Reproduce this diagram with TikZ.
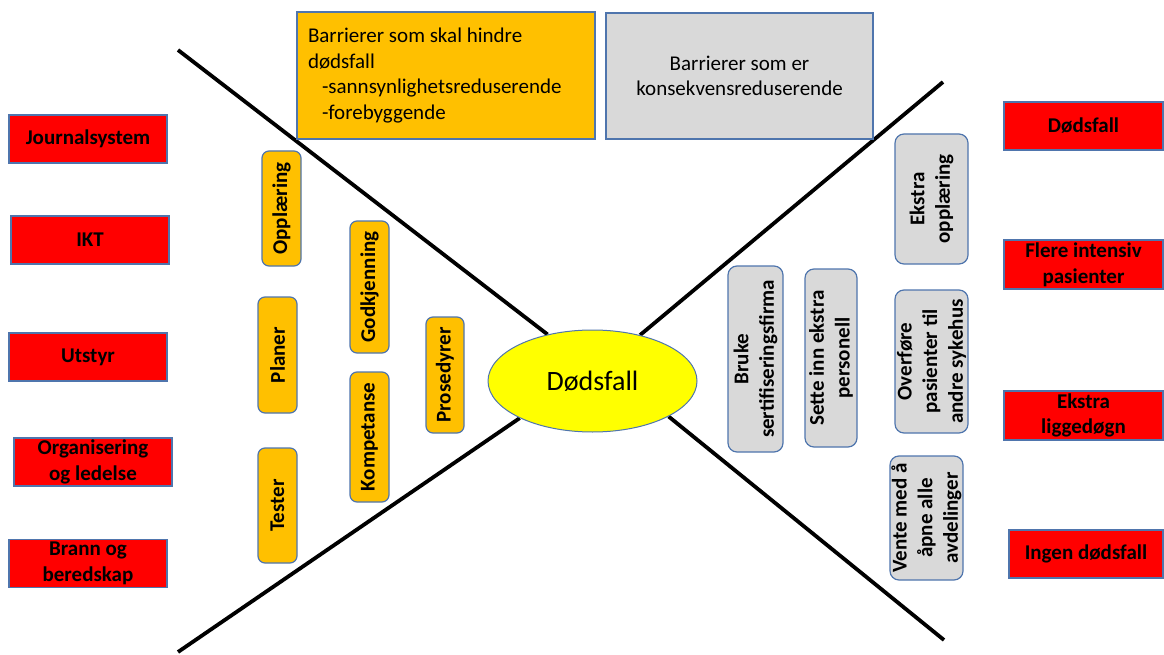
\documentclass[tikz,border=0pt]{standalone}
\usepackage{fontspec}
\setmainfont{Carlito}
\usetikzlibrary{shapes.geometric,backgrounds}

\definecolor{boxred}{HTML}{FF0000}
\definecolor{boxorange}{HTML}{FFC000}
\definecolor{boxgray}{HTML}{D9D9D9}
\definecolor{boxedge}{HTML}{4F75AD}
\definecolor{topyellow}{HTML}{FFFF00}

\tikzset{
  redbox/.style={draw=boxedge, line width=1.2pt, fill=boxred, minimum width=158pt,
    minimum height=48pt, inner sep=1pt, align=center,
    font=\fontsize{21}{25.6}\selectfont\bfseries},
  orangebox/.style={draw=boxedge, line width=1.2pt, fill=boxorange, rounded corners=7pt,
    rotate=90, minimum height=39pt, inner sep=1pt, align=center,
    font=\fontsize{21}{25.6}\selectfont\bfseries},
  graybox/.style={draw=boxedge, line width=1.2pt, fill=boxgray, rounded corners=9pt,
    rotate=90, inner sep=0.5pt, align=center,
    font=\fontsize{21}{25.6}\selectfont\bfseries},
  barline/.style={line width=3.8pt, black},
}

\begin{document}
\begin{tikzpicture}[x=1pt, y=-1pt]
  \useasboundingbox (0,0) rectangle (1164,655);
  % Centre event
  \node[ellipse, draw=boxedge, line width=1pt, fill=topyellow, minimum width=209pt,
    minimum height=102pt, inner sep=0pt, font=\fontsize{28}{32}\selectfont]
    (dod) at (592.5,381) {Dødsfall};
  % Bow tie lines behind it
  \coordinate (tl) at (178,50);
  \coordinate (tr) at (943,82);
  \coordinate (bl) at (178,652);
  \coordinate (br) at (944,640);
  \begin{scope}[on background layer]
    \draw[barline] (tl) -- (dod.134);
    \draw[barline] (tr) -- (dod.44);
    \draw[barline] (bl) -- (dod.207);
    \draw[barline] (br) -- (dod.335);
  \end{scope}

  % Headings
  \node[draw=boxedge, line width=1.2pt, fill=boxorange, minimum width=298pt,
    minimum height=127pt, inner xsep=11pt, text width=276pt, align=flush left,
    font=\fontsize{21}{25.6}\selectfont] (prev) at (446,75.5)
    {Barrierer som skal hindre\\dødsfall\\\hspace*{14pt}-sannsynlighetsreduserende\\\hspace*{14pt}-forebyggende};
  \node[draw=boxedge, line width=1.2pt, fill=boxgray, minimum width=267pt,
    minimum height=126pt, align=center, font=\fontsize{21}{25.6}\selectfont]
    (cons) at (739.5,76) {Barrierer som er\\konsekvensreduserende};

  % Causes
  \node[redbox] (journal) at (88,139) {Journalsystem};
  \node[redbox] (ikt) at (90,240) {IKT};
  \node[redbox] (utstyr) at (88,357) {Utstyr};
  \node[redbox] (org) at (93,462) {Organisering\\og ledelse};
  \node[redbox] (brann) at (88,563.5) {Brann og\\beredskap};

  % Consequences
  \node[redbox, minimum width=159pt] (cdod) at (1083.5,126) {Dødsfall};
  \node[redbox, minimum width=159pt, minimum height=49pt] (flere) at (1083.5,264.5) {Flere intensiv\\pasienter};
  \node[redbox, minimum width=159pt, minimum height=49pt] (ligg) at (1083.5,415.5) {Ekstra\\liggedøgn};
  \node[redbox, minimum width=154pt] (ingen) at (1086,554) {Ingen dødsfall};

  % Preventive barriers
  \node[orangebox, minimum width=115pt] (oppl) at (281.5,208.5) {Opplæring};
  \node[orangebox, minimum width=116pt] (planer) at (277.5,355) {Planer};
  \node[orangebox, minimum width=115pt] (tester) at (277.5,505.5) {Tester};
  \node[orangebox, minimum width=132pt] (godkj) at (369.5,287) {Godkjenning};
  \node[orangebox, minimum width=130pt] (komp) at (369.5,437) {Kompetanse};
  \node[orangebox, minimum width=116pt, minimum height=38pt] (pros) at (445,375) {Prosedyrer};

  % Mitigating barriers
  \node[graybox, minimum width=186pt, minimum height=55pt] (bruke) at (755.5,359) {Bruke\\sertifiseringsfirma};
  \node[graybox, minimum width=178pt, minimum height=52pt] (sette) at (831,358) {Sette inn ekstra\\personell};
  \node[graybox, minimum width=130pt, minimum height=73pt] (ekstra) at (931.5,199) {Ekstra\\opplæring};
  \node[graybox, minimum width=143pt, minimum height=73pt] (overf) at (931.5,361.5) {Overføre\\pasienter til\\andre sykehus};
  \node[graybox, minimum width=124pt, minimum height=73pt] (vente) at (926.5,518) {Vente med å\\åpne alle\\avdelinger};
\end{tikzpicture}
\end{document}
